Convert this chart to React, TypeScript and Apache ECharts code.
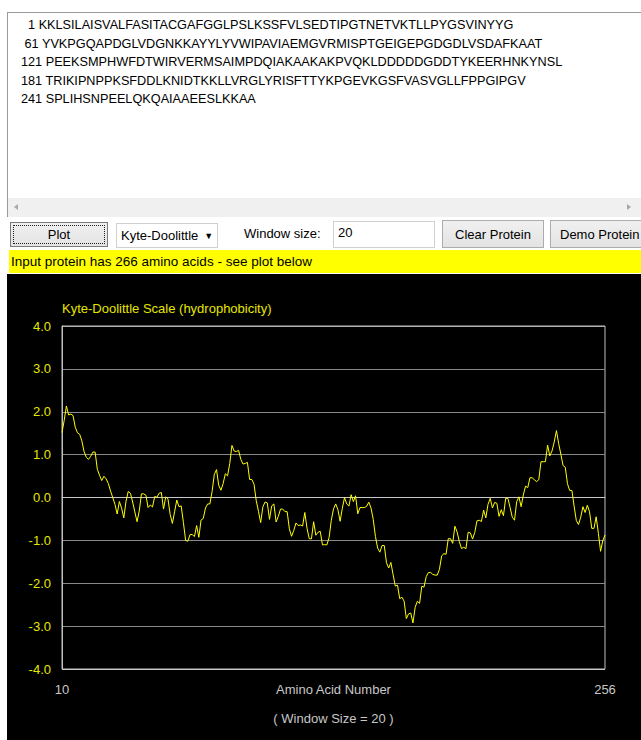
import React, { useEffect, useRef } from "react";
import * as echarts from "echarts";

// Protein sequence shown in the input box
const sequenceLines: string[] = [
  "  1 KKLSILAISVALFASITACGAFGGLPSLKSSFVLSEDTIPGTNETVKTLLPYGSVINYYG",
  " 61 YVKPGQAPDGLVDGNKKAYYLYVWIPAVIAEMGVRMISPTGEIGEPGDGDLVSDAFKAAT",
  "121 PEEKSMPHWFDTWIRVERMSAIMPDQIAKAAKAKPVQKLDDDDDGDDTYKEERHNKYNSL",
  "181 TRIKIPNPPKSFDDLKNIDTKKLLVRGLYRISFTTYKPGEVKGSFVASVGLLFPPGIPGV",
  "241 SPLIHSNPEELQKQAIAAEESLKKAA",
];

// Window centres: first plotted residue and last plotted residue
const firstResidue = 10;
const lastResidue = 256;
const xTickLabels = [10, 256];

// Y axis
const yMin = -4;
const yMax = 4;
const yStep = 1;

// Kyte-Doolittle hydropathy, window 20, residues 10..256
const hydropathy: number[] = [
  1.515, 1.8, 2.135, 1.925, 1.945, 1.91, 1.64, 1.51, 1.475, 1.32,
  1.07, 0.94, 0.89, 0.96, 1.06, 1.06, 0.66, 0.52, 0.395, 0.495,
  0.435, 0.325, 0.15, -0.005, -0.16, -0.385, -0.095, -0.25, -0.475, -0.09,
  0.14, 0.1, -0.105, -0.335, -0.565, -0.315, 0.085, 0.085, 0.055, -0.235,
  -0.175, -0.22, 0.025, 0.005, 0.1, 0.115, -0.27, 0.015, -0.03, -0.395,
  -0.605, -0.335, -0.06, -0.215, -0.195, -0.58, -1.0, -1.02, -0.865, -0.865,
  -0.91, -0.655, -0.93, -0.525, -0.49, -0.245, -0.15, -0.15, 0.14, 0.54,
  0.65, 0.285, 0.17, 0.325, 0.555, 0.505, 0.795, 1.215, 1.085, 1.07,
  1.1, 0.89, 0.78, 0.795, 0.82, 0.42, 0.42, 0.31, -0.075, -0.32,
  -0.585, -0.22, -0.105, -0.125, -0.51, -0.195, -0.15, -0.57, -0.44, -0.27,
  -0.27, -0.33, -0.33, -0.73, -0.905, -0.77, -0.595, -0.655, -0.64, -0.665,
  -0.35, -0.715, -0.96, -0.965, -0.565, -0.88, -0.81, -0.79, -1.105, -1.1,
  -1.105, -0.935, -0.535, -0.265, -0.15, -0.285, -0.555, -0.25, 0, -0.15,
  -0.2, 0.065, -0.095, 0.04, -0.38, -0.235, -0.235, -0.235, -0.205, -0.11,
  -0.245, -0.51, -0.91, -1.18, -1.275, -1.12, -1.12, -1.52, -1.645, -1.515,
  -1.8, -2.065, -2.045, -2.36, -2.325, -2.42, -2.825, -2.715, -2.695, -2.925,
  -2.56, -2.42, -2.47, -2.07, -2.09, -1.845, -1.75, -1.75, -1.795, -1.81,
  -1.81, -1.675, -1.36, -1.31, -1.325, -0.96, -0.96, -1.07, -0.67, -0.805,
  -1.03, -1.19, -1.16, -1.195, -0.81, -0.825, -0.97, -0.815, -0.545, -0.53,
  -0.56, -0.295, -0.475, -0.16, -0.02, -0.245, -0.115, -0.135, -0.44, -0.285,
  -0.425, -0.02, -0.02, -0.23, -0.46, -0.53, -0.095, 0.015, -0.215, 0.06,
  0.265, 0.23, 0.46, 0.46, 0.415, 0.37, 0.415, 0.835, 0.835, 0.835,
  1.22, 0.97, 1.085, 1.295, 1.56, 1.26, 1.01, 0.745, 0.705, 0.32,
  0.165, 0.165, -0.2, -0.535, -0.63, -0.46, -0.215, -0.35, -0.18, -0.335,
  -0.72, -0.72, -0.45, -0.835, -1.255, -1.005, -0.875,
];

const chartTitle = "Kyte-Doolittle Scale (hydrophobicity)";
const xAxisName = "Amino Acid Number";
const windowNote = "( Window Size = 20 )";
const statusText = "Input protein has 266 amino acids - see plot below";

const FONT = '"Liberation Sans", Arial, Helvetica, sans-serif';

function PlotChart() {
  const ref = useRef<HTMLDivElement>(null);
  useEffect(() => {
    if (!ref.current) return;
    const chart = echarts.init(ref.current, undefined, { renderer: "svg" });
    const data = hydropathy.map((v, i) => [firstResidue + i, v]);
    const splitColors: string[] = [];
    for (let t = yMin; t <= yMax; t += yStep) {
      splitColors.push(t === yMin ? "#c8c8c8" : t === yMax ? "#b0b0b0" : "#8a8a8a");
    }
    chart.setOption({
      animation: false,
      backgroundColor: "#000000",
      textStyle: { fontFamily: FONT },
      title: {
        text: chartTitle,
        left: 55,
        top: 28,
        padding: 0,
        textStyle: { color: "#e6e600", fontSize: 13, fontWeight: "normal", fontFamily: FONT },
      },
      grid: {
        left: 55,
        right: 36,
        top: 52,
        bottom: 71,
        show: true,
        borderColor: "#c0c0c0",
        borderWidth: 1,
        backgroundColor: "transparent",
      },
      xAxis: {
        type: "value",
        min: firstResidue,
        max: lastResidue,
        axisLine: { show: true, lineStyle: { color: "#c8c8c8" } },
        axisTick: { show: false },
        splitLine: { show: false },
        axisLabel: {
          customValues: xTickLabels,
          color: "#c8c8c8",
          fontSize: 13,
          margin: 14,
          fontFamily: FONT,
        },
      },
      yAxis: {
        type: "value",
        min: yMin,
        max: yMax,
        interval: yStep,
        axisLine: { show: true, lineStyle: { color: "#c0c0c0" } },
        axisTick: { show: false },
        axisLabel: {
          color: "#e6e600",
          fontSize: 13,
          margin: 11,
          fontFamily: FONT,
          formatter: (v: number) => v.toFixed(1),
        },
        splitLine: { show: true, lineStyle: { color: splitColors, width: 1 } },
      },
      graphic: [
        {
          type: "text",
          x: 326.5,
          y: 415,
          style: {
            text: xAxisName,
            fill: "#c8c8c8",
            fontSize: 13,
            fontFamily: FONT,
            align: "center",
            verticalAlign: "middle",
          },
        },
        {
          type: "text",
          x: 326.5,
          y: 444,
          style: {
            text: windowNote,
            fill: "#c8c8c8",
            fontSize: 13,
            fontFamily: FONT,
            align: "center",
            verticalAlign: "middle",
          },
        },
      ],
      series: [
        {
          type: "line",
          data,
          showSymbol: false,
          symbol: "none",
          lineStyle: { color: "#ffff00", width: 1 },
          itemStyle: { color: "#ffff00" },
        },
      ],
    });
    return () => chart.dispose();
  }, []);
  return <div ref={ref} style={{ position: "absolute", left: 7, top: 274, width: 634, height: 466 }} />;
}

const buttonStyle: React.CSSProperties = {
  position: "absolute",
  boxSizing: "border-box",
  border: "1px solid #acacac",
  background: "linear-gradient(#f0f0f0, #e3e3e3)",
  fontSize: 13,
  color: "#000",
  display: "flex",
  alignItems: "center",
  justifyContent: "center",
  whiteSpace: "nowrap",
};

export default function App() {
  return (
    <div
      style={{
        position: "fixed",
        left: 0,
        top: 0,
        width: 641,
        height: 740,
        background: "#ffffff",
        overflow: "hidden",
        fontFamily: FONT,
        color: "#000",
      }}
    >
      {/* sequence text area */}
      <div
        style={{
          position: "absolute",
          left: 7,
          top: 12,
          width: 640,
          height: 205,
          boxSizing: "border-box",
          borderLeft: "1px solid #9a9a9a",
          borderTop: "1px solid #9a9a9a",
          background: "#fff",
        }}
      >
        <div
          style={{
            position: "absolute",
            left: 13,
            top: 3,
            fontSize: 12.7,
            lineHeight: "18.5px",
            whiteSpace: "pre",
          }}
        >
          {sequenceLines.map((l, i) => (
            <div key={i}>{l}</div>
          ))}
        </div>
        {/* horizontal scrollbar */}
        <div
          style={{
            position: "absolute",
            left: 0,
            top: 185,
            width: 640,
            height: 19,
            background: "#f0f0f0",
          }}
        >
          <div
            style={{
              position: "absolute",
              left: 6,
              top: 6,
              width: 0,
              height: 0,
              borderTop: "3.5px solid transparent",
              borderBottom: "3.5px solid transparent",
              borderRight: "4px solid #a8a8a8",
            }}
          />
          <div
            style={{
              position: "absolute",
              left: 619,
              top: 6,
              width: 0,
              height: 0,
              borderTop: "3.5px solid transparent",
              borderBottom: "3.5px solid transparent",
              borderLeft: "4px solid #a8a8a8",
            }}
          />
        </div>
      </div>

      {/* controls row */}
      <div style={{ ...buttonStyle, left: 10, top: 222, width: 98, height: 25, border: "1px solid #7a7a7a" }}>
        <div
          style={{
            position: "absolute",
            left: 2,
            top: 2,
            right: 2,
            bottom: 2,
            border: "1px dotted #202020",
          }}
        />
        <span>Plot</span>
      </div>
      <div
        style={{
          position: "absolute",
          left: 116,
          top: 223,
          width: 102,
          height: 25,
          boxSizing: "border-box",
          border: "1px solid #d0d0d0",
          background: "#fff",
          fontSize: 13,
          display: "flex",
          alignItems: "center",
          paddingLeft: 4,
          whiteSpace: "nowrap",
        }}
      >
        <span>Kyte-Doolittle</span>
        <span style={{ fontSize: 9, marginLeft: 6 }}>▼</span>
      </div>
      <div style={{ position: "absolute", left: 244, top: 226, fontSize: 13, lineHeight: "16px" }}>Window size:</div>
      <div
        style={{
          position: "absolute",
          left: 333,
          top: 221,
          width: 102,
          height: 27,
          boxSizing: "border-box",
          border: "1px solid #d0d0d0",
          background: "#fff",
          fontSize: 13,
          paddingLeft: 4,
          lineHeight: "22px",
        }}
      >
        20
      </div>
      <div style={{ ...buttonStyle, left: 442, top: 220, width: 102, height: 28 }}>Clear Protein</div>
      <div style={{ ...buttonStyle, left: 550, top: 220, width: 100, height: 28, justifyContent: "flex-start", paddingLeft: 9 }}>
        Demo Protein
      </div>

      {/* status bar */}
      <div
        style={{
          position: "absolute",
          left: 9,
          top: 250,
          width: 632,
          height: 23,
          background: "#ffff00",
          fontSize: 13.5,
          lineHeight: "23px",
          paddingLeft: 2,
          whiteSpace: "nowrap",
        }}
      >
        {statusText}
      </div>

      {/* plot */}
      <PlotChart />
    </div>
  );
}
